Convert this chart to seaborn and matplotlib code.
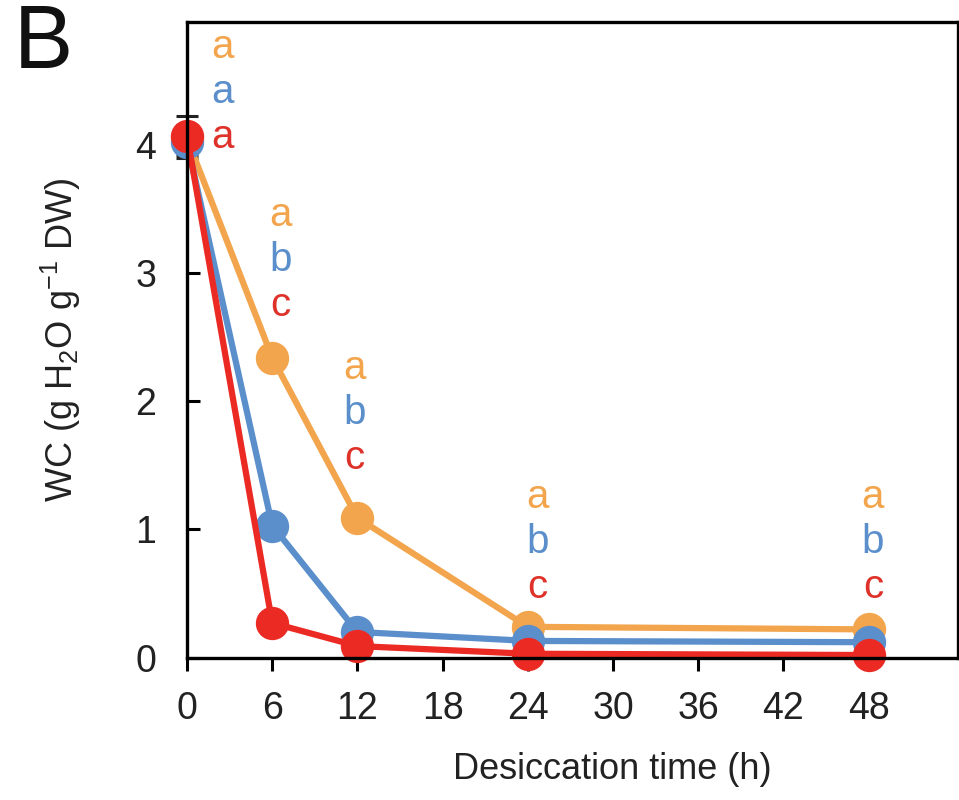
import numpy as np
import pandas as pd
import matplotlib
matplotlib.use("Agg")
import matplotlib.pyplot as plt
import seaborn as sns

# Data
hours = [0, 6, 12, 24, 48]
lines = ["line_1", "line_2", "line_3"]
wc_line_1 = [4.05, 2.34, 1.09, 0.24, 0.22]
wc_line_2 = [4.02, 1.03, 0.20, 0.13, 0.12]
wc_line_3 = [4.07, 0.27, 0.09, 0.03, 0.02]
se_line_1 = [0.10, 0.05, 0.05, 0.03, 0.02]
se_line_2 = [0.12, 0.05, 0.03, 0.02, 0.02]
se_line_3 = [0.15, 0.03, 0.02, 0.01, 0.01]
colors = ["#F2A54C", "#5B8FCB", "#EC2A24"]
letter_colors = ["#F2A54C", "#5B8FCB", "#DE3129"]

# significance letters, one group per time point
sig_letters = [["a", "a", "a"], ["a", "b", "c"], ["a", "b", "c"],
               ["a", "b", "c"], ["a", "b", "c"]]
letter_x = [2.5, 6.6, 11.8, 24.7, 48.3]
letter_y_top = [4.76, 3.45, 2.26, 1.25, 1.25]
letter_step = 0.35

df = pd.DataFrame({
    "hours": hours * 3,
    "wc": wc_line_1 + wc_line_2 + wc_line_3,
    "se": se_line_1 + se_line_2 + se_line_3,
    "line": sum([[l] * len(hours) for l in lines], []),
})

sns.set_style("white")
plt.rcParams["font.family"] = ["Liberation Sans", "DejaVu Sans"]
plt.rcParams["mathtext.default"] = "regular"

fig = plt.figure(figsize=(9.59, 8), dpi=100)
ax = fig.add_axes([0.195, 0.178, 0.804, 0.795])

for l, c in zip(lines, colors):
    sub = df[df["line"] == l]
    ax.errorbar(sub["hours"], sub["wc"], yerr=sub["se"], fmt="none",
                ecolor="#222222", elinewidth=2, capsize=8, capthick=2.2,
                zorder=1, clip_on=False)

sns.lineplot(data=df, x="hours", y="wc", hue="line", palette=colors,
             marker="o", markersize=24, markeredgewidth=0, linewidth=4.5,
             legend=False, ax=ax, zorder=2, clip_on=False)

for i in range(len(hours)):
    for j in range(3):
        ax.text(letter_x[i], letter_y_top[i] - j * letter_step, sig_letters[i][j],
                color=letter_colors[j], fontsize=29, ha="center", va="center")

ax.set_xlim(0, 54.3)
ax.set_ylim(0, 4.96)
ax.set_xticks([0, 6, 12, 18, 24, 30, 36, 42, 48])
ax.set_yticks([0, 1, 2, 3, 4])
ax.tick_params(length=9, width=2.2, labelsize=27, colors="black",
               labelcolor="#222222", bottom=True, left=True, top=False, right=False)
ax.tick_params(axis="x", direction="out", pad=15)
ax.tick_params(axis="y", direction="in", pad=22)
for s in ax.spines.values():
    s.set_linewidth(2.4)
    s.set_color("black")

ax.set_xlabel("Desiccation time (h)", fontsize=26, color="#222222")
ax.set_ylabel("WC (g H$_2$O g$^{-1}$ DW)", fontsize=26, color="#222222")
ax.xaxis.set_label_coords(0.551, -0.148)
ax.yaxis.set_label_coords(-0.135, 0.5)

fig.text(0.045, 0.944, "B", fontsize=64, ha="center", va="center", color="#111111")

fig.savefig("out.png", dpi=100)
